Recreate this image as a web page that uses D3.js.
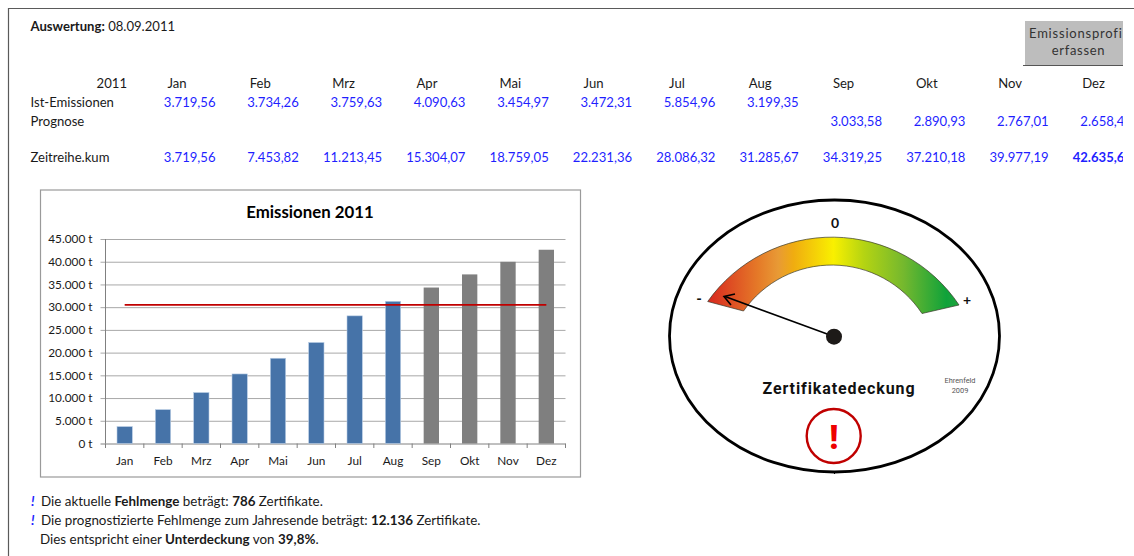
<!DOCTYPE html>
<html><head><meta charset="utf-8">
<script src="https://cdnjs.cloudflare.com/ajax/libs/d3/7.8.5/d3.min.js"></script>
<style>html,body{margin:0;padding:0;background:#fff}svg{display:block;font-family:Lato,"Open Sans",sans-serif}</style>
</head><body><svg id="c" width="1134" height="556"></svg>
<script>
const months=["Jan","Feb","Mrz","Apr","Mai","Jun","Jul","Aug","Sep","Okt","Nov","Dez"];
const istLabels=["3.719,56","3.734,26","3.759,63","4.090,63","3.454,97","3.472,31","5.854,96","3.199,35",null,null,null,null];
const prognoseLabels=[null,null,null,null,null,null,null,null,"3.033,58","2.890,93","2.767,01","2.658,41"];
const kumLabels=["3.719,56","7.453,82","11.213,45","15.304,07","18.759,05","22.231,36","28.086,32","31.285,67","34.319,25","37.210,18","39.977,19","42.635,60"];
const kumValues=[3719.56,7453.82,11213.45,15304.07,18759.05,22231.36,28086.32,31285.67,34319.25,37210.18,39977.19,42635.60];
const actualMonths=8;
const targetValue=30499.6;
const yTicks=[0,5000,10000,15000,20000,25000,30000,35000,40000,45000];

const svg=d3.select("#c");
const blue="#1f1fff", ink="#1a1a1a";
const defs=svg.append("defs");
defs.append("clipPath").attr("id","clipR").append("rect").attr("x",0).attr("y",0).attr("width",1123).attr("height",556);

// frame
svg.append("path").attr("d","M8.5,556V8.5H1134").attr("fill","none").attr("stroke","#5a5a5a").attr("stroke-width",1.2);

function text(g,x,y,parts,o={}){
  const t=g.append("text").attr("x",x).attr("y",y).attr("font-size",o.size||13.1).attr("fill",o.fill||ink).attr("text-anchor",o.anchor||"start");
  (Array.isArray(parts)?parts:[[parts,false]]).forEach(([s,b])=>t.append("tspan").attr("font-weight",b?700:400).text(s));
  return t;
}
text(svg,30.5,31,[["Auswertung:",true],[" 08.09.2011",false]]);

// button
const btn=svg.append("g").attr("clip-path","url(#clipR)");
btn.append("rect").attr("x",1025).attr("y",21).attr("width",98).attr("height",44).attr("fill","#bdbdbd");
btn.append("line").attr("x1",1023).attr("x2",1123).attr("y1",65.5).attr("y2",65.5).attr("stroke","#555");
text(btn,1029,38,"Emissionsprofil",{size:13,fill:"#333"}).attr("letter-spacing",.8);
text(btn,1078.5,55,"erfassen",{size:13,fill:"#333",anchor:"middle"}).attr("letter-spacing",.7);

// table
const tbl=svg.append("g").attr("clip-path","url(#clipR)");
const colX=d3.scalePoint().domain(months).range([215.5,1132]);
text(tbl,127,88,"2011",{anchor:"end"});
text(tbl,30.5,107,"Ist-Emissionen");
text(tbl,30.5,126,"Prognose");
text(tbl,30.5,162,"Zeitreihe.kum");
months.forEach((m,i)=>{
  text(tbl,colX(m)-38.5,88,m,{anchor:"middle"});
  if(istLabels[i])text(tbl,colX(m),107,istLabels[i],{anchor:"end",fill:blue});
  if(prognoseLabels[i])text(tbl,colX(m),126,prognoseLabels[i],{anchor:"end",fill:blue});
  text(tbl,colX(m),162,[[kumLabels[i],i===11]],{anchor:"end",fill:blue});
});

// chart box
svg.append("rect").attr("x",40.5).attr("y",190).attr("width",540).attr("height",287).attr("fill","#fff").attr("stroke","#9a9a9a").attr("stroke-width",1.2);
text(svg,310,218,[["Emissionen 2011",true]],{size:16.8,anchor:"middle",fill:"#000"});
const x=d3.scaleBand().domain(months).range([105.5,565.5]);
const y=d3.scaleLinear().domain([0,45000]).range([443.5,239]);
const de=d3.formatLocale({decimal:",",thousands:".",grouping:[3],currency:["","€"]});
const yAxis=d3.axisLeft(y).tickValues(yTicks).tickFormat(d=>de.format(",d")(d)+" t").tickSize(0).tickPadding(13);
const ya=svg.append("g").attr("transform","translate(105.5,0)").call(yAxis);
ya.select(".domain").remove();
ya.selectAll("text").attr("font-family","Lato").attr("font-size",11.8).attr("fill",ink);
ya.selectAll("g.tick line").attr("x1",-5).attr("x2",460).attr("stroke",d=>d===0?"#808080":"#a8a8a8").attr("stroke-width",1);
svg.append("line").attr("x1",105.5).attr("x2",105.5).attr("y1",239).attr("y2",443.5).attr("stroke","#808080");
svg.selectAll(".bar").data(kumValues).join("rect").attr("class","bar")
  .attr("x",(d,i)=>x(months[i])+x.bandwidth()*.3).attr("width",x.bandwidth()*.4)
  .attr("y",d=>y(d)).attr("height",d=>y(0)-y(d))
  .attr("fill",(d,i)=>i<actualMonths?"#4673a8":"#7f7f7f")
  .attr("stroke",(d,i)=>i<actualMonths?"#b9cde4":"none").attr("stroke-width",.6);
const xg=svg.append("g");
[...months.map(m=>x(m)),565.5].forEach(v=>xg.append("line").attr("x1",v).attr("x2",v).attr("y1",443.5).attr("y2",448).attr("stroke","#808080"));
months.forEach(m=>text(xg,x(m)+x.bandwidth()/2,465,m,{size:11.8,anchor:"middle"}));
svg.append("line").attr("x1",x("Jan")+x.bandwidth()/2).attr("x2",x("Dez")+x.bandwidth()/2)
  .attr("y1",y(targetValue)).attr("y2",y(targetValue)).attr("stroke","#c00000").attr("stroke-width",1.8);

// gauge
const g=svg.append("g");
g.append("ellipse").attr("cx",834.5).attr("cy",336).attr("rx",165).attr("ry",136).attr("fill","#fff").attr("stroke","#000").attr("stroke-width",2.8);
g.append("line").attr("x1",834.5).attr("x2",834.5).attr("y1",472).attr("y2",474).attr("stroke","#000");
const grad=defs.append("linearGradient").attr("id","gg").attr("gradientUnits","userSpaceOnUse").attr("x1",708).attr("x2",959).attr("y1",0).attr("y2",0);
[[0,"#d8281f"],[.2,"#e57a28"],[.28,"#e89a35"],[.34,"#f0ac10"],[.5,"#f9f000"],[.62,"#b5d412"],[.78,"#74b82e"],[.95,"#0fa23a"],[1,"#1ea33c"]]
  .forEach(([o,c])=>grad.append("stop").attr("offset",o).attr("stop-color",c));
g.append("path").attr("d","M707.7,301.5A152.5,152.5 0 0 1 959,305L922,313.5A108,108 0 0 0 743.5,311Z").attr("fill","url(#gg)").attr("stroke","#3a3a2a").attr("stroke-width",.7);
g.append("line").attr("x1",834).attr("y1",336.5).attr("x2",725).attr("y2",296.5).attr("stroke","#000").attr("stroke-width",1.6);
g.append("path").attr("d","M735,294L724,296.5L731,305").attr("fill","none").attr("stroke","#000").attr("stroke-width",1.6);
g.append("circle").attr("cx",834).attr("cy",336.7).attr("r",8).attr("fill","#1d1a18");
text(g,835,228,[["0",true]],{size:14,anchor:"middle",fill:"#111"});
text(g,699,304,[["-",true]],{size:15,anchor:"middle",fill:"#111"});
text(g,967,305,[["+",true]],{size:14,anchor:"middle",fill:"#111"});
text(g,839,394,[["Zertifikatedeckung",true]],{size:16,anchor:"middle",fill:"#111"}).attr("font-family","Roboto").attr("letter-spacing",.9);
text(g,960,383,"Ehrenfeld",{size:7.4,anchor:"middle",fill:"#555"}).attr("font-family","Roboto");
text(g,960,393,"2009",{size:7.4,anchor:"middle",fill:"#555"}).attr("font-family","Roboto");
g.append("circle").attr("cx",833.7).attr("cy",436).attr("r",27).attr("fill","#fff").attr("stroke","#c00000").attr("stroke-width",2.4);
text(g,833.7,449,[["!",true]],{size:33,anchor:"middle",fill:"#ee0000"}).attr("font-family","Roboto").selectAll("tspan").attr("font-weight",900);

// notes
const n=svg.append("g");
const mark=(yy)=>text(n,31,yy,[["!",true]],{fill:"#1f1fff",size:13.5}).attr("font-style","italic");
mark(506);mark(525);
const noteSize=13.4;
text(n,41,506,[["Die aktuelle ",false],["Fehlmenge",true],[" beträgt: ",false],["786",true],[" Zertifikate.",false]],{size:noteSize});
text(n,41,525,[["Die prognostizierte Fehlmenge zum Jahresende beträgt: ",false],["12.136",true],[" Zertifikate.",false]],{size:noteSize});
text(n,40,544,[["Dies entspricht einer ",false],["Unterdeckung",true],[" von ",false],["39,8%",true],[".",false]],{size:noteSize});
</script></body></html>
